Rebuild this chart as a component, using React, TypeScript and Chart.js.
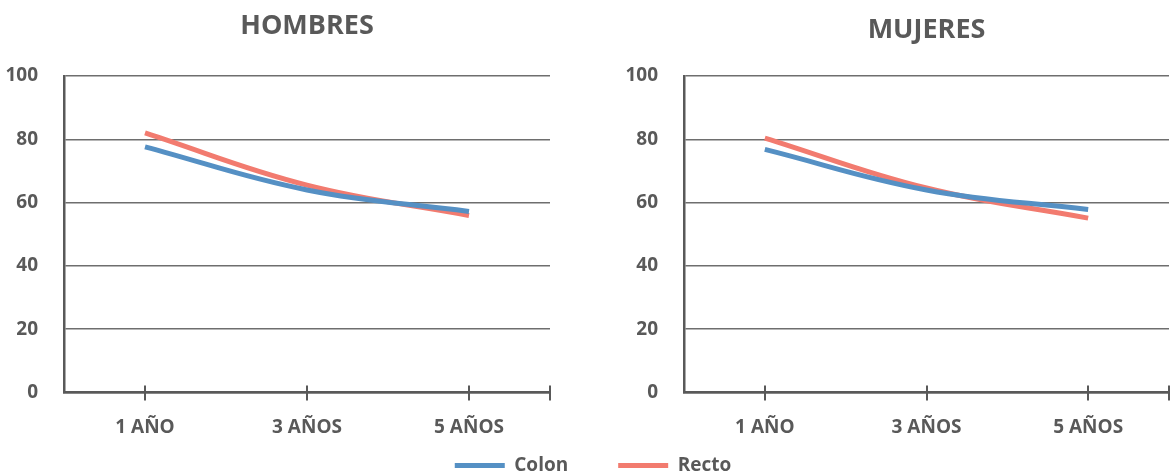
import React, { useEffect, useRef } from "react";
import { Chart, registerables } from "chart.js";

Chart.register(...registerables);

const categories = ["1 AÑO", "3 AÑOS", "5 AÑOS"];
const seriesNames = ["Colon", "Recto"];
const seriesColors = ["#5590C4", "#F27B6F"];
const hombresColon = [77.6, 64, 57.2];
const hombresRecto = [82, 65.5, 55.9];
const mujeresColon = [76.8, 64, 57.8];
const mujeresRecto = [80.4, 64.6, 55.1];
const yTicks = [0, 20, 40, 60, 80, 100];

const FONT = "'Open Sans', 'Noto Sans', sans-serif";
const TEXT = "#595959";
const TITLE_SIZE = 27;
const TITLE_LH = TITLE_SIZE * 1.2;

const crossTicks = {
  id: "crossTicks",
  afterLayout(chart: any) {
    if (chart.titleBlock) {
      chart.titleBlock.left = chart.chartArea.left;
      chart.titleBlock.right = chart.chartArea.right;
    }
  },
  afterDraw(chart: any) {
    const x = chart.scales.x;
    if (!x) return;
    const ctx = chart.ctx;
    const b = chart.chartArea.bottom;
    ctx.save();
    ctx.strokeStyle = TEXT;
    ctx.lineWidth = 2;
    const xs: number[] = [];
    for (let i = 0; i < x.ticks.length; i++) xs.push(x.getPixelForTick(i));
    xs.push(chart.chartArea.right);
    ctx.beginPath();
    xs.forEach((px) => {
      const p = Math.round(px);
      ctx.moveTo(p, b - 7);
      ctx.lineTo(p, b + 8);
    });
    ctx.stroke();
    ctx.restore();
  },
};

function makeConfig(title: string, colon: number[], recto: number[], yWidth: number, padRight: number, titleTop: number): any {
  return {
    type: "line",
    data: {
      labels: categories,
      datasets: [
        { label: seriesNames[0], data: colon, borderColor: seriesColors[0], backgroundColor: seriesColors[0], borderWidth: 5, pointRadius: 0, tension: 0.4, fill: false },
        { label: seriesNames[1], data: recto, borderColor: seriesColors[1], backgroundColor: seriesColors[1], borderWidth: 5, pointRadius: 0, tension: 0.4, fill: false },
      ],
    },
    options: {
      animation: false,
      responsive: false,
      maintainAspectRatio: false,
      layout: { padding: { left: 0, right: padRight, top: 0, bottom: 0 } },
      plugins: {
        legend: { display: false },
        tooltip: { enabled: false },
        title: {
          display: true,
          text: title,
          color: TEXT,
          font: { family: FONT, size: TITLE_SIZE, weight: "bold" },
          padding: { top: titleTop, bottom: 76 - titleTop - TITLE_LH },
        },
      },
      scales: {
        x: {
          type: "category",
          offset: true,
          grid: { display: false },
          border: { display: true, color: TEXT, width: 2.5 },
          ticks: { color: TEXT, padding: 16, font: { family: FONT, size: 19, weight: "bold" } },
          afterFit: (s: any) => { s.height = 47.5; },
        },
        y: {
          min: 0,
          max: 100,
          afterBuildTicks: (s: any) => { s.ticks = yTicks.map((v) => ({ value: v })); },
          grid: { color: "#6e6e6e", lineWidth: 1.5, drawTicks: false },
          border: { display: true, color: TEXT, width: 2.5 },
          ticks: { color: TEXT, padding: 26, font: { family: FONT, size: 19, weight: "bold" } },
          afterFit: (s: any) => { s.width = yWidth; },
        },
      },
    },
    plugins: [crossTicks],
  };
}

function legendConfig(): any {
  return {
    type: "line",
    data: {
      labels: [],
      datasets: seriesNames.map((n, i) => ({ label: n, data: [], borderColor: seriesColors[i], backgroundColor: seriesColors[i] })),
    },
    options: {
      animation: false,
      responsive: false,
      maintainAspectRatio: false,
      scales: { x: { display: false }, y: { display: false } },
      plugins: {
        tooltip: { enabled: false },
        legend: {
          display: true,
          position: "top",
          labels: {
            boxWidth: 50,
            boxHeight: 5,
            padding: 50,
            color: TEXT,
            font: { family: FONT, size: 19, weight: "bold" },
            generateLabels: (chart: any) =>
              chart.data.datasets.map((d: any, i: number) => ({
                text: d.label,
                fillStyle: d.borderColor,
                strokeStyle: d.borderColor,
                lineWidth: 0,
                hidden: false,
                datasetIndex: i,
                fontColor: TEXT,
              })),
          },
        },
      },
    },
  };
}

function ChartCanvas({ config, style, width, height }: { config: any; style: React.CSSProperties; width: number; height: number }) {
  const ref = useRef<HTMLCanvasElement>(null);
  useEffect(() => {
    if (!ref.current) return;
    const c = new Chart(ref.current, config);
    return () => c.destroy();
  }, []);
  return <canvas ref={ref} width={width} height={height} style={{ position: "absolute", width, height, ...style }} />;
}

export default function App() {
  useEffect(() => {
    document.body.style.margin = "0";
  }, []);
  return (
    <div style={{ position: "absolute", left: 0, top: 0, width: 1170, height: 475, background: "#fff", overflow: "hidden" }}>
      <ChartCanvas config={makeConfig("HOMBRES", hombresColon, hombresRecto, 64, 30, 9.8)} style={{ left: 0, top: 0 }} width={580} height={440} />
      <ChartCanvas config={makeConfig("MUJERES", mujeresColon, mujeresRecto, 84, 1, 14.3)} style={{ left: 600, top: 0 }} width={570} height={440} />
      <ChartCanvas config={legendConfig()} style={{ left: 8, top: 406, pointerEvents: "none" }} width={1170} height={220} />
    </div>
  );
}
